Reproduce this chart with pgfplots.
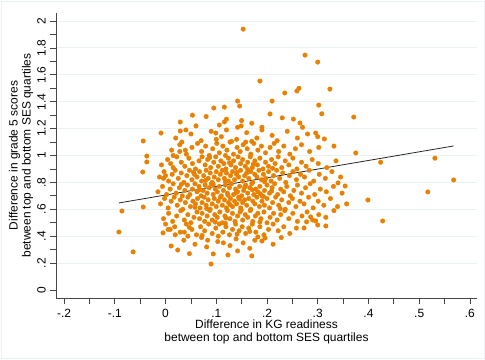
\documentclass[border=0pt]{standalone}
\usepackage{pgfplots}
\pgfplotsset{compat=1.18}
\usepackage{fontspec}
\setmainfont{Liberation Sans}
\definecolor{dotc}{RGB}{232,128,0}
\definecolor{gridc}{RGB}{234,242,243}
\definecolor{axc}{RGB}{70,70,70}
\begin{document}
\fontsize{12}{13}\selectfont
\begin{tikzpicture}
\begin{axis}[
  at={(56bp,62bp)}, anchor=south west,
  scale only axis, width=421bp, height=285bp,
  xmin=-0.216, xmax=0.614, ymin=-0.06, ymax=2.06,
  axis lines*=left,
  axis line style={axc, line width=0.8pt},
  tick style={axc, line width=0.8pt},
  tick align=outside,
  major tick length=5.5bp, minor tick length=5.5bp,
  xtick={-0.2,-0.1,0,0.1,0.2,0.3,0.4,0.5,0.6},
  xticklabels={-.2,-.1,0,.1,.2,.3,.4,.5,.6},
  minor x tick num=1,
  ytick={0.2,0.4,0.6,0.8,1,1.2,1.4,1.6,1.8,2},
  yticklabels={.2,.4,.6,.8,1,1.2,1.4,1.6,1.8,2},
  extra y ticks={0}, extra y tick labels={0},
  extra y tick style={grid=none},
  minor y tick num=1,
  ymajorgrids, major grid style={gridc, line width=1pt},
  xticklabel style={anchor=center, font=\fontsize{12}{13}\selectfont},
  xticklabel shift=10bp,
  yticklabel style={rotate=90, anchor=center, font=\fontsize{12}{13}\selectfont},
  yticklabel shift=9bp,
  xlabel={Difference in KG readiness\\between top and bottom SES quartiles},
  ylabel={Difference in grade 5 scores\\between top and bottom SES quartiles},
  xlabel style={align=center, at={(axis description cs:0.5,-0.1193)}, anchor=center, font=\fontsize{12}{13}\selectfont},
  ylabel style={align=center, at={(axis description cs:-0.0831,0.5)}, anchor=center, rotate=0, font=\fontsize{12}{13}\selectfont},
  clip=false,
]
\addplot[only marks, color=dotc, mark=*, mark size=2.3bp, mark options={line width=0.3pt, fill=dotc, draw=dotc}] coordinates {
(0.153,1.94) (0.275,1.747) (0.300,1.695) (0.186,1.554) (0.324,1.494) (0.263,1.50) (0.259,1.48)
(0.235,1.465) (0.210,1.405) (0.206,1.309) (0.302,1.375) (0.308,1.31) (0.371,1.286) (0.252,1.271)
(0.265,1.242) (0.296,1.167) (0.313,1.123) (0.332,1.07) (0.375,1.019) (0.424,0.95) (0.531,0.98)
(0.568,0.818) (0.517,0.729) (0.428,0.513) (0.399,0.669) (0.357,0.64) (0.354,0.773) (0.340,0.796)
(0.316,0.476) (0.300,0.483) (0.296,0.513) (0.273,0.461) (0.278,0.506) (0.286,0.543)
(0.170,0.253) (0.182,0.394) (0.190,0.364) (0.196,0.386)
(0.0897,0.193) (0.094,0.268) (-0.092,0.431) (-0.086,0.587) (-0.044,0.617) (-0.064,0.283)
(0.011,0.327) (0.024,0.297) (-0.005,0.424) (0.0,0.49) (0.005,0.45) (0.009,0.45) (0.019,0.41)
(0.044,0.40) (0.037,0.43) (0.083,0.37) (0.104,0.40) (0.114,0.35)
(-0.044,1.108) (-0.037,0.996) (-0.037,0.952) (-0.045,0.877) (-0.009,1.167) (0.053,1.30)
(0.029,1.249) (0.029,1.182) (0.095,1.353) (0.116,1.36) (0.142,1.405) (0.146,1.368)
(0.106,1.227) (0.116,1.25) (0.142,1.21) (0.149,1.22) (0.099,1.167) (0.032,1.10)
(0.039,1.04) (0.028,1.03) (0.015,1.0) (0.010,0.94) (0.0,0.85) (-0.004,0.83)
(0.06,1.22) (0.12,1.27) (0.17,1.24) (0.19,1.21) (0.23,1.28) (0.27,1.21) (0.08,1.29) (0.15,1.26)
(0.02,1.13) (0.05,1.16) (0.07,1.11) (0.09,1.18) (0.11,1.14) (0.12,1.19) (0.14,1.12) (0.16,1.17)
(0.18,1.13) (0.19,1.19) (0.21,1.15) (0.22,1.11) (0.24,1.18) (0.26,1.13) (0.28,1.16) (0.13,1.105)
(0.17,1.105) (0.10,1.12) (0.30,1.14) (0.04,1.19)
(0.012,1.04) (0.028,1.08) (0.041,1.01) (0.052,1.06) (0.063,1.09) (0.071,1.03) (0.079,1.07) (0.086,1.00)
(0.093,1.05) (0.101,1.09) (0.106,1.02) (0.113,1.07) (0.121,1.04) (0.127,1.10) (0.134,1.01) (0.141,1.06)
(0.147,1.03) (0.153,1.08) (0.161,1.05) (0.168,1.01) (0.174,1.09) (0.182,1.04) (0.189,1.07) (0.197,1.02)
(0.206,1.06) (0.214,1.09) (0.223,1.03) (0.233,1.07) (0.245,1.01) (0.256,1.05) (0.268,1.08) (0.284,1.03)
(0.302,1.06) (0.118,1.00) (0.158,1.10)
(-0.008,0.93) (0.004,0.97) (0.015,0.91) (0.022,0.99) (0.031,0.95) (0.038,0.92) (0.046,0.98) (0.053,0.94)
(0.059,0.90) (0.066,0.96) (0.072,0.99) (0.078,0.93) (0.083,0.97) (0.089,0.91) (0.095,0.95) (0.099,0.99)
(0.104,0.92) (0.109,0.96) (0.115,0.94) (0.119,0.90) (0.124,0.98) (0.129,0.93) (0.134,0.96) (0.138,0.91)
(0.143,0.99) (0.148,0.94) (0.152,0.97) (0.157,0.92) (0.162,0.95) (0.167,0.99) (0.171,0.91) (0.176,0.96)
(0.181,0.93) (0.186,0.98) (0.192,0.90) (0.197,0.95) (0.203,0.92) (0.209,0.97) (0.216,0.94) (0.222,0.99)
(0.229,0.91) (0.236,0.96) (0.243,0.93) (0.251,0.98) (0.259,0.90) (0.268,0.95) (0.277,0.92) (0.289,0.97)
(0.301,0.94) (0.318,0.91) (0.336,0.96) (0.126,0.945) (0.173,0.935) (0.211,0.905) (0.087,0.985)
(-0.012,0.84) (-0.003,0.88) (0.006,0.81) (0.013,0.86) (0.019,0.89) (0.025,0.83) (0.031,0.87) (0.036,0.80)
(0.042,0.85) (0.047,0.89) (0.052,0.82) (0.057,0.86) (0.062,0.84) (0.067,0.88) (0.071,0.81) (0.075,0.85)
(0.080,0.89) (0.084,0.83) (0.088,0.87) (0.092,0.80) (0.096,0.84) (0.100,0.88) (0.104,0.82) (0.108,0.86)
(0.112,0.89) (0.116,0.83) (0.120,0.87) (0.124,0.81) (0.128,0.85) (0.132,0.88) (0.136,0.82) (0.140,0.86)
(0.144,0.84) (0.148,0.89) (0.152,0.81) (0.156,0.85) (0.160,0.87) (0.164,0.83) (0.168,0.88) (0.172,0.80)
(0.176,0.86) (0.180,0.84) (0.184,0.89) (0.189,0.82) (0.193,0.86) (0.198,0.83) (0.203,0.88) (0.208,0.81)
(0.213,0.85) (0.219,0.89) (0.225,0.83) (0.231,0.87) (0.237,0.80) (0.244,0.85) (0.251,0.88) (0.258,0.82)
(0.266,0.86) (0.274,0.84) (0.283,0.89) (0.292,0.81) (0.303,0.86) (0.315,0.83) (0.328,0.88) (0.345,0.84)
(0.079,0.815) (0.141,0.875) (0.195,0.805) (0.055,0.875) (0.118,0.805) (0.162,0.895)
(-0.015,0.73) (-0.006,0.77) (0.002,0.71) (0.009,0.75) (0.015,0.79) (0.021,0.72) (0.027,0.76) (0.033,0.70)
(0.038,0.74) (0.043,0.78) (0.048,0.71) (0.053,0.75) (0.058,0.79) (0.062,0.73) (0.066,0.77) (0.070,0.70)
(0.074,0.74) (0.078,0.78) (0.082,0.72) (0.086,0.76) (0.090,0.79) (0.094,0.71) (0.098,0.75) (0.102,0.73)
(0.106,0.77) (0.110,0.70) (0.114,0.74) (0.118,0.78) (0.122,0.72) (0.126,0.76) (0.130,0.79) (0.134,0.71)
(0.138,0.75) (0.142,0.73) (0.146,0.77) (0.150,0.70) (0.154,0.74) (0.158,0.78) (0.162,0.72) (0.166,0.76)
(0.170,0.79) (0.174,0.71) (0.178,0.75) (0.182,0.73) (0.186,0.77) (0.190,0.70) (0.195,0.74) (0.200,0.78)
(0.205,0.72) (0.210,0.76) (0.215,0.79) (0.221,0.71) (0.227,0.75) (0.233,0.73) (0.239,0.77) (0.246,0.70)
(0.253,0.74) (0.260,0.78) (0.268,0.72) (0.276,0.76) (0.285,0.79) (0.294,0.71) (0.305,0.75) (0.317,0.73)
(0.331,0.77) (0.348,0.72) (0.067,0.745) (0.123,0.705) (0.156,0.765) (0.187,0.715) (0.094,0.785) (0.139,0.725)
(0.171,0.745) (0.209,0.735) (0.031,0.785)
(-0.010,0.64) (-0.002,0.68) (0.005,0.61) (0.011,0.66) (0.017,0.69) (0.023,0.63) (0.029,0.67) (0.034,0.60)
(0.039,0.65) (0.044,0.69) (0.049,0.62) (0.054,0.66) (0.059,0.64) (0.063,0.68) (0.068,0.61) (0.072,0.65)
(0.076,0.69) (0.080,0.63) (0.084,0.67) (0.088,0.60) (0.092,0.64) (0.096,0.68) (0.100,0.62) (0.104,0.66)
(0.108,0.69) (0.112,0.63) (0.116,0.67) (0.120,0.61) (0.124,0.65) (0.128,0.68) (0.132,0.62) (0.136,0.66)
(0.140,0.64) (0.144,0.69) (0.148,0.61) (0.152,0.65) (0.156,0.67) (0.160,0.63) (0.164,0.68) (0.168,0.60)
(0.172,0.66) (0.176,0.64) (0.180,0.69) (0.185,0.62) (0.190,0.66) (0.195,0.63) (0.200,0.68) (0.205,0.61)
(0.211,0.65) (0.217,0.69) (0.223,0.63) (0.229,0.67) (0.236,0.60) (0.243,0.65) (0.250,0.68) (0.257,0.62)
(0.265,0.66) (0.273,0.64) (0.282,0.69) (0.291,0.61) (0.301,0.66) (0.312,0.63) (0.325,0.68) (0.339,0.62)
(0.081,0.605) (0.146,0.675) (0.193,0.695) (0.058,0.615) (0.127,0.635) (0.226,0.605)
(-0.004,0.53) (0.006,0.57) (0.014,0.51) (0.022,0.55) (0.030,0.59) (0.037,0.52) (0.044,0.56) (0.050,0.50)
(0.056,0.54) (0.062,0.58) (0.067,0.53) (0.072,0.57) (0.077,0.51) (0.082,0.55) (0.087,0.59) (0.092,0.52)
(0.097,0.56) (0.102,0.54) (0.107,0.58) (0.112,0.50) (0.117,0.55) (0.122,0.59) (0.127,0.53) (0.132,0.57)
(0.137,0.51) (0.142,0.55) (0.147,0.58) (0.152,0.52) (0.157,0.56) (0.162,0.54) (0.167,0.59) (0.172,0.51)
(0.177,0.55) (0.182,0.57) (0.188,0.53) (0.194,0.58) (0.200,0.50) (0.206,0.54) (0.213,0.57) (0.220,0.52)
(0.227,0.56) (0.235,0.59) (0.243,0.53) (0.251,0.57) (0.260,0.51) (0.269,0.55) (0.279,0.58) (0.290,0.52)
(0.302,0.56) (0.316,0.54) (0.332,0.59) (0.098,0.505) (0.149,0.595) (0.186,0.505) (0.119,0.535)
(0.018,0.47) (0.029,0.43) (0.041,0.49) (0.052,0.45) (0.061,0.41) (0.069,0.47) (0.077,0.44) (0.085,0.49)
(0.092,0.42) (0.099,0.46) (0.106,0.49) (0.113,0.43) (0.119,0.47) (0.126,0.41) (0.132,0.45) (0.138,0.49)
(0.145,0.44) (0.151,0.47) (0.158,0.42) (0.164,0.46) (0.171,0.49) (0.178,0.43) (0.186,0.47) (0.194,0.41)
(0.203,0.45) (0.212,0.49) (0.222,0.44) (0.233,0.47) (0.245,0.42) (0.258,0.46) (0.072,0.405) (0.141,0.415)
(0.118,0.495) (0.166,0.435) (0.047,0.465)
(0.036,0.37) (0.058,0.34) (0.071,0.39) (0.103,0.36) (0.127,0.33) (0.139,0.38) (0.153,0.35) (0.166,0.31)
(0.176,0.37) (0.212,0.34) (0.228,0.39) (0.081,0.32)
(0.047,0.27) (0.123,0.26) (0.142,0.29)
};
\addplot[black!85, line width=0.8pt] coordinates {(-0.092,0.647) (0.568,1.071)};
\end{axis}
\draw[gridc, line width=1pt] (1bp,2bp) rectangle (484bp,358bp);
\useasboundingbox (0,0) rectangle (485bp,360bp);
\end{tikzpicture}
\end{document}
